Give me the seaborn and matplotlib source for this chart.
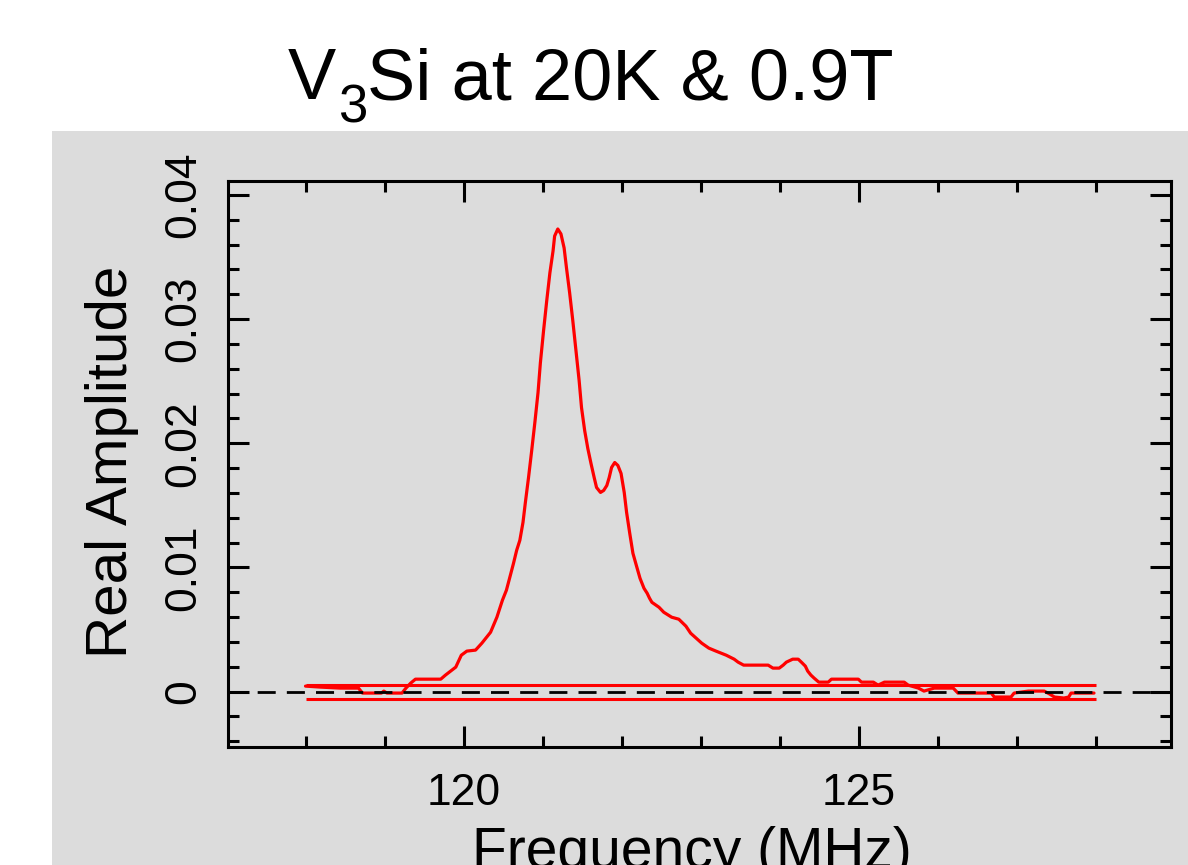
import matplotlib
matplotlib.use("Agg")
import matplotlib.pyplot as plt
from matplotlib.patches import Rectangle
from matplotlib.ticker import MultipleLocator
import pandas as pd
import seaborn as sns

# Spectre (MHz, amplitude réelle)
freq = [118.00, 118.19, 118.44, 118.67, 118.72, 118.96, 118.99, 119.03, 119.22, 119.27,
        119.33, 119.39, 119.71, 119.77, 119.90, 119.97, 120.04, 120.15, 120.23, 120.34,
        120.42, 120.49, 120.54, 120.58, 120.63, 120.67, 120.71, 120.75, 120.78, 120.82,
        120.86, 120.90, 120.94, 120.97, 121.01, 121.05, 121.09, 121.13, 121.15, 121.19,
        121.23, 121.27, 121.30, 121.34, 121.38, 121.42, 121.46, 121.49, 121.53, 121.57,
        121.61, 121.65, 121.68, 121.73, 121.77, 121.81, 121.84, 121.87, 121.91, 121.95,
        121.99, 122.03, 122.06, 122.10, 122.14, 122.19, 122.23, 122.28, 122.32, 122.35,
        122.38, 122.47, 122.53, 122.63, 122.72, 122.81, 122.87, 122.94, 123.01, 123.10,
        123.19, 123.32, 123.42, 123.47, 123.54, 123.85, 123.91, 123.99, 124.04, 124.08,
        124.16, 124.23, 124.27, 124.32, 124.35, 124.39, 124.43, 124.49, 124.61, 124.65,
        124.99, 125.03, 125.18, 125.24, 125.32, 125.57, 125.62, 125.75, 125.82, 125.95,
        126.19, 126.25, 126.67, 126.71, 126.92, 126.96, 127.14, 127.34, 127.41, 127.47,
        127.59, 127.65, 127.68, 127.97]
amplitude = [0.00044, 0.00036, 0.00028, 0.00028, -0.00012, -0.00012, 0.00004, -0.00012, -0.00012, 0.00028,
             0.00068, 0.00100, 0.00100, 0.00133, 0.00197, 0.00293, 0.00326, 0.00334, 0.00390, 0.00478,
             0.00599, 0.00736, 0.00816, 0.00912, 0.01033, 0.01138, 0.01218, 0.01363, 0.01523, 0.01724,
             0.01941, 0.02167, 0.02408, 0.02649, 0.02906, 0.03147, 0.03372, 0.03549, 0.03669, 0.03726,
             0.03686, 0.03573, 0.03412, 0.03211, 0.02986, 0.02745, 0.02504, 0.02287, 0.02102, 0.01957,
             0.01837, 0.01724, 0.01644, 0.01604, 0.01620, 0.01660, 0.01724, 0.01805, 0.01845, 0.01821,
             0.01757, 0.01604, 0.01443, 0.01274, 0.01114, 0.01001, 0.00912, 0.00832, 0.00792, 0.00752,
             0.00719, 0.00679, 0.00639, 0.00599, 0.00583, 0.00527, 0.00470, 0.00430, 0.00390, 0.00350,
             0.00326, 0.00293, 0.00261, 0.00237, 0.00213, 0.00213, 0.00189, 0.00189, 0.00213, 0.00237,
             0.00261, 0.00261, 0.00237, 0.00205, 0.00165, 0.00133, 0.00109, 0.00076, 0.00076, 0.00100,
             0.00100, 0.00076, 0.00076, 0.00052, 0.00076, 0.00076, 0.00052, 0.00028, 0.00004, 0.00028,
             0.00028, -0.00012, -0.00012, -0.00044, -0.00044, -0.00012, 0.00004, 0.00004, -0.00020, -0.00044,
             -0.00052, -0.00044, -0.00012, -0.00012]

# lignes horizontales (niveaux de bruit) et leur étendue
noise_levels = [0.00050, -0.00062]
noise_span = [118.0, 128.0]

x_ticks = [120, 125]
y_ticks = [0, 0.01, 0.02, 0.03, 0.04]
y_tick_labels = ["0", "0.01", "0.02", "0.03", "0.04"]

df = pd.DataFrame({"Frequency": freq, "Amplitude": amplitude})

sns.set_theme(style="ticks")
plt.rcParams["font.family"] = ["Liberation Sans", "DejaVu Sans"]
plt.rcParams["text.color"] = "black"
plt.rcParams["axes.labelcolor"] = "black"
plt.rcParams["xtick.color"] = "black"
plt.rcParams["ytick.color"] = "black"

gray = "#dcdcdc"
fig = plt.figure(figsize=(11.88, 8.65), dpi=100, facecolor="white")
fig.patches.append(Rectangle((0.04377, 0), 0.95623, 0.84855, transform=fig.transFigure,
                             facecolor=gray, edgecolor="none", zorder=-1))
ax = fig.add_axes([0.19192, 0.13676, 0.79419, 0.65364])
ax.set_facecolor(gray)

for lvl in noise_levels:
    ax.hlines(lvl, noise_span[0], noise_span[1], color="#ff0000", lw=2.2, zorder=2)
sns.lineplot(data=df, x="Frequency", y="Amplitude", color="#ff0000", lw=2.3,
             estimator=None, sort=False, ax=ax, zorder=3)
ax.axhline(0, color="black", lw=2, ls=(0, (6.5, 4)), zorder=4)

ax.set_xlim(117.02, 128.95)
ax.set_ylim(-0.00444, 0.0411)
ax.xaxis.set_major_locator(MultipleLocator(5))
ax.xaxis.set_minor_locator(MultipleLocator(1))
ax.yaxis.set_minor_locator(MultipleLocator(0.002))
ax.set_xticks(x_ticks)
ax.set_yticks(y_ticks)
ax.set_yticklabels(y_tick_labels, rotation=90, va="center")

for s in ax.spines.values():
    s.set_linewidth(2.2)
    s.set_color("black")
ax.tick_params(which="both", direction="in", top=True, right=True, width=2.2,
               color="black", labelcolor="black")
ax.tick_params(which="major", length=15)
ax.tick_params(which="minor", length=8)
ax.tick_params(axis="x", labelsize=32, pad=19)
ax.tick_params(axis="y", labelsize=32, pad=17)

ax.set_xlabel("Frequency (MHz)", fontsize=41, va="top", color="black")
ax.xaxis.set_label_coords(0.492, -0.1403)
ax.set_ylabel("Real Amplitude", fontsize=42, color="black")
ax.yaxis.set_label_coords(-0.0943, 0.5044)

# titre : "V", indice "3" plus bas, puis le reste sur la ligne de base de "V"
t1 = fig.text(0.2424, 0.8855, "V", ha="left", va="baseline", fontsize=52, color="black")
t2 = ax.annotate("3", xy=(1, 0), xycoords=t1, xytext=(1, -14), textcoords="offset points",
                 ha="left", va="bottom", fontsize=38, color="black", annotation_clip=False)
ax.annotate("Si at 20K & 0.9T", xy=(1, 0), xycoords=(t2, t1), xytext=(0, 0),
            textcoords="offset points", ha="left", va="bottom", fontsize=52,
            color="black", annotation_clip=False)

fig.savefig("out.png", dpi=100, facecolor="white")
